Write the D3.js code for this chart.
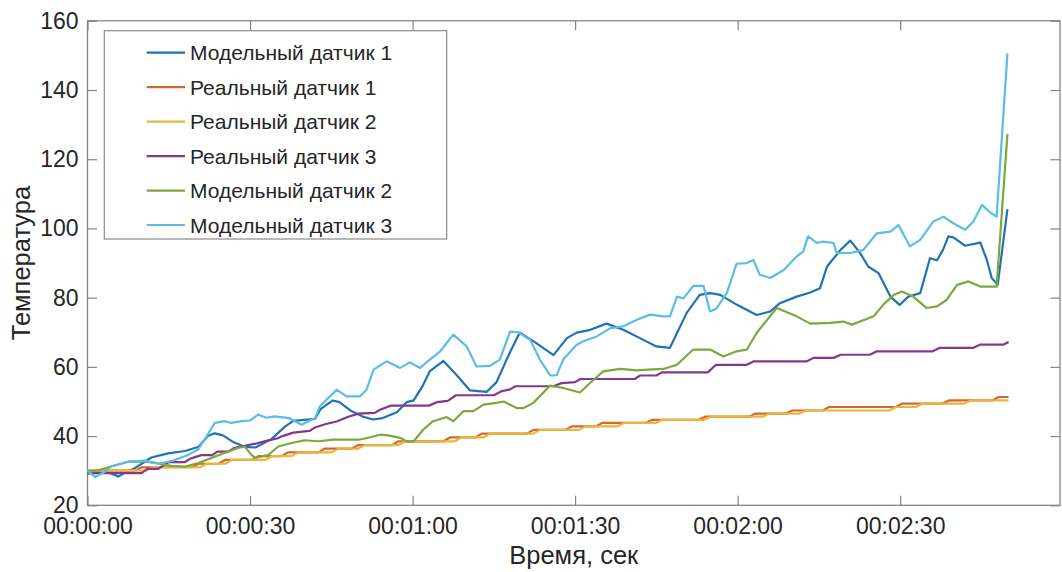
<!DOCTYPE html>
<html>
<head>
<meta charset="utf-8">
<script src="https://cdn.jsdelivr.net/npm/d3@7"></script>
<style>
  body { margin: 0; background: #fff; }
  text { font-family: "Liberation Sans", Arial, sans-serif; fill: #262626; }
</style>
</head>
<body>
<div id="chart"></div>
<script>
// Series names (legend order = draw order)
let seriesNames = [
  "Модельный датчик 1",
  "Реальный датчик 1",
  "Реальный датчик 2",
  "Реальный датчик 3",
  "Модельный датчик 2",
  "Модельный датчик 3",
];
let seriesColors = ["#1f72b4", "#d5662c", "#ebb43a", "#82388f", "#79aa3a", "#5abde8"];

// Values: [seconds, temperature]
let model1 = [[0,29.2],[2,29.5],[3.5,29.8],[5.7,28.3],[7,29.5],[8.8,30.8],[10.5,32.5],[11.8,33.8],[14.9,35],[18,35.7],[20.5,36.9],[22.2,40],[23.5,40.8],[25,40.2],[27,38.2],[29,36.9],[31,36.7],[34,39.2],[36.5,42.8],[38,44.4],[42,45],[43,47.8],[45.3,50.3],[46.5,49.8],[48.5,47.4],[50.9,45.6],[52.7,44.8],[54.5,45.2],[57.1,46.9],[58.9,49.8],[60.2,50.3],[61.9,54.6],[63.2,58.8],[65.7,61.7],[68.2,57.5],[70.6,53.2],[73.7,52.8],[75.5,55.6],[78,64.3],[79.8,69.9],[82.9,66.8],[86,63.4],[88.5,68.3],[90.3,69.9],[92.8,70.7],[95.8,72.5],[98.9,70.7],[102.6,67.8],[105,65.9],[107.5,65.5],[110.6,75.6],[113,80.8],[114.9,81.3],[116.8,80.8],[119.8,78],[123.5,75],[126,76],[127.8,78.4],[130.9,80.3],[133.4,81.5],[135.2,82.7],[136.5,89],[139,93.8],[140.8,96.5],[142.6,92.9],[144.1,89],[146,87.1],[148.2,80.3],[149.9,77.9],[151.5,80.3],[153.7,81.3],[155.5,91.4],[156.8,90.8],[157.9,93.8],[158.9,97.7],[159.8,97.4],[162,95],[164.8,95.9],[166,90.9],[166.9,85.7],[168,83.7],[169.8,105.6]];

let real1 = [[0,30],[8.8,30],[10,31],[19.3,31],[20.5,32],[24.2,32],[25.4,33.1],[30.3,33.1],[31.5,34.2],[35.8,34.2],[37,35.3],[42.6,35.3],[43.8,36.4],[48.8,36.4],[50,37.4],[56.2,37.4],[57.4,38.5],[65.7,38.5],[66.9,39.6],[71.6,39.6],[72.8,40.7],[81.1,40.7],[82.3,41.8],[88.2,41.8],[89.4,42.8],[93.8,42.8],[95,43.8],[103,43.8],[104.2,44.7],[112.8,44.7],[114,45.6],[122.1,45.6],[123.3,46.5],[128.9,46.5],[130.1,47.4],[135.7,47.4],[136.9,48.4],[149.2,48.4],[150.4,49.4],[157.8,49.4],[159,50.3],[167,50.3],[168.2,51.3],[170,51.3]];

let real2 = [[0,30],[10.8,30],[12,31],[20.8,31],[22,32],[25.4,32],[26.6,33.1],[32.8,33.1],[34,34.2],[37.7,34.2],[38.9,35.3],[45.1,35.3],[46.3,36.4],[50,36.4],[51.2,37.4],[57.4,37.4],[58.6,38.5],[67.8,38.5],[69,39.6],[73.1,39.6],[74.3,40.7],[82.3,40.7],[83.5,41.8],[90.7,41.8],[91.9,42.8],[97.8,42.8],[99,43.8],[104.9,43.8],[106.1,44.7],[113.8,44.7],[115,45.6],[124.6,45.6],[125.8,46.5],[131.4,46.5],[132.6,47.4],[148,47.4],[149.2,48.4],[152.9,48.4],[154.1,49.4],[161.8,49.4],[163,50.3],[170,50.3]];

let real3 = [[0,29.3],[10,29.3],[11,30.5],[13,30.5],[14,31.5],[15,32.5],[18,32.5],[19,33.5],[21,34.5],[23,34.5],[24,35.5],[26,35.5],[27,36.5],[29,37.2],[31,37.8],[33,38.6],[35,39.3],[36,40],[38,41],[41,41.5],[42,42.5],[44,43.5],[46,44.2],[48,45.5],[50,46.5],[53,46.7],[54,47.6],[56,48.8],[63,48.8],[64.5,49.8],[66.5,50.2],[68,51.8],[75,51.8],[76.5,53],[78,53.5],[79,54.4],[86,54.4],[87.5,55.3],[90,55.6],[91,56.5],[101,56.5],[102,57.5],[105,57.5],[106,58.4],[114.5,58.4],[116,60.6],[121.7,60.6],[123,61.6],[132.8,61.6],[134,62.6],[137.7,62.6],[139,63.5],[144.4,63.5],[145.7,64.5],[156,64.5],[157.3,65.5],[163.5,65.5],[164.7,66.4],[169,66.4],[170,67.2]];

let model2 = [[0,29.8],[2,30.1],[4.5,31.3],[7.5,32.6],[10,32.7],[12,32.5],[13.7,31.8],[15.5,31.4],[18,31.2],[20.5,32.2],[22.9,33.7],[25.4,35.2],[27.8,36.6],[29,37],[30.3,34.5],[31,33.7],[33.4,34.6],[35.2,37],[37.7,38],[40.1,38.8],[42.6,38.5],[45.4,39],[50.3,39],[52,39.6],[54,40.4],[55.5,40.2],[57.7,39.5],[58.9,38.5],[60.2,38.5],[62,41.9],[63.8,44.3],[66.3,45.5],[67.5,44.3],[69.4,47.2],[71.2,47.2],[73.1,49.1],[75.5,49.6],[76.8,50],[79.2,48.1],[80.5,48.1],[82.3,49.6],[85.4,54.6],[87.8,53.9],[90.9,52.6],[92.8,55.4],[95.2,58.7],[98.3,59.4],[101.4,59],[103.5,59.2],[106.3,59.4],[108.8,60.6],[111.8,65],[114.9,65],[117.4,63],[119.8,64.5],[121.7,65],[123.5,69.8],[127.2,77],[130.9,74.6],[133.4,72.5],[137.1,72.7],[139.5,73.1],[141.1,72.2],[142.6,73.1],[145.1,74.6],[146.9,78],[148.8,80.8],[150.3,81.8],[152.4,80.3],[154.9,77],[156.8,77.5],[158.6,79.4],[160.5,83.7],[162.6,84.7],[164.8,83.2],[167.8,83.2],[169.8,127.3]];

let model3 = [[0,30],[1.4,28.2],[3,29.5],[4.5,31.3],[7.5,32.6],[10.6,32.9],[11.8,32.3],[13.1,32],[16,33],[18.5,34.5],[20.4,36.1],[22,40],[23.5,43.8],[25.4,44.3],[26.5,43.8],[28.5,44.3],[30,44.5],[31.5,46.2],[33,45.3],[34.5,45.7],[37.2,45.2],[39.5,43.3],[42,45.2],[42.9,48.6],[44.1,50.5],[46,53.4],[47.8,51.5],[50.3,51.5],[51.5,53.4],[52.8,59.2],[55.2,61.6],[57.7,59.7],[59.5,61.3],[61.4,59.7],[62.5,61.2],[65.1,64.5],[67.5,69.3],[70,65.9],[71.8,60.1],[74.3,60.3],[76.1,62.1],[78,70.2],[79.5,70],[81.7,67.8],[83.5,62.1],[85.4,57.5],[86.6,57.6],[87.8,62.1],[90.3,66.4],[91.5,67.4],[94,68.8],[96.5,71.2],[98.9,71.7],[101.4,73.6],[103.8,75.1],[106.3,74.6],[107.5,74.6],[108.8,80.3],[110,79.8],[111.8,83.4],[113.7,83.4],[114.9,76],[116.1,76.9],[118,81.3],[119.8,89.8],[121.7,90],[122.9,90.9],[124.1,86.6],[126,85.7],[128.5,88],[130.9,91.9],[132.1,93.3],[133,97.7],[134.6,95.8],[135.8,96.2],[137.7,95.8],[138.3,92.9],[140.8,92.9],[143.2,93.8],[145.7,98.6],[148.2,99.1],[149.7,101],[151.8,94.8],[153.7,96.7],[156.1,102],[158,103.4],[159.8,101.5],[162,99.6],[163.5,102],[165.1,106.8],[166.6,104.6],[167.8,103.4],[169.8,150.6]];

let allSeries = [model1, real1, real2, real3, model2, model3];

// Tick values
let xTicks = [0, 30, 60, 90, 120, 150];
let yTicks = [20, 40, 60, 80, 100, 120, 140, 160];

// SVG area + plot box
let svgWidth = 1062;
let svgHeight = 572;
let box = { left: 87.5, right: 1060, top: 20.8, bottom: 505.3 };

var svg = d3.select("#chart")
  .append("svg")
  .attr("width", svgWidth)
  .attr("height", svgHeight);

// scales
let xScale = d3.scaleLinear().domain([0, 179.5]).range([box.left, box.right]);
let yScale = d3.scaleLinear().domain([20, 160]).range([box.bottom, box.top]);

// hh:mm:ss formatter
function fmtTime(s) {
  let h = Math.floor(s / 3600), m = Math.floor((s % 3600) / 60), sec = s % 60;
  return [h, m, sec].map((d) => String(d).padStart(2, "0")).join(":");
}

let axisColor = "#858585";
let tickLen = 9.5;

// Bottom axis
let xAxisB = svg.append("g")
  .attr("transform", `translate(0, ${box.bottom})`)
  .call(d3.axisBottom(xScale).tickValues(xTicks).tickFormat(fmtTime)
    .tickSizeInner(-tickLen).tickSizeOuter(0).tickPadding(12));
// Top axis (ticks only)
let xAxisT = svg.append("g")
  .attr("transform", `translate(0, ${box.top})`)
  .call(d3.axisTop(xScale).tickValues(xTicks).tickFormat("")
    .tickSizeInner(-tickLen).tickSizeOuter(0));
// Left axis
let yAxisL = svg.append("g")
  .attr("transform", `translate(${box.left}, 0)`)
  .call(d3.axisLeft(yScale).tickValues(yTicks)
    .tickSizeInner(-tickLen).tickSizeOuter(0).tickPadding(9));
// Right axis (ticks only)
let yAxisR = svg.append("g")
  .attr("transform", `translate(${box.right}, 0)`)
  .call(d3.axisRight(yScale).tickValues(yTicks).tickFormat("")
    .tickSizeInner(-tickLen).tickSizeOuter(0));

svg.selectAll(".domain").remove();
svg.selectAll(".tick line").attr("stroke", axisColor).attr("stroke-width", 1.2);
svg.selectAll(".tick text")
  .attr("font-size", "23px")
  .style("font-family", '"Liberation Sans", Arial, sans-serif')
  .attr("fill", "#262626");

// Box
svg.append("rect")
  .attr("x", box.left)
  .attr("y", box.top)
  .attr("width", box.right - box.left)
  .attr("height", box.bottom - box.top)
  .attr("fill", "none")
  .attr("stroke", axisColor)
  .attr("stroke-width", 1.3);

// Lines
let line = d3.line()
  .x((d) => xScale(d[0]))
  .y((d) => yScale(d[1]));

svg.append("g")
  .selectAll("path")
  .data(allSeries)
  .enter()
  .append("path")
  .attr("d", line)
  .attr("fill", "none")
  .attr("stroke", (d, i) => seriesColors[i])
  .attr("stroke-width", 2.2)
  .attr("stroke-linejoin", "round");

// Axis titles
svg.append("text")
  .attr("x", (box.left + box.right) / 2)
  .attr("y", 564)
  .attr("text-anchor", "middle")
  .attr("font-size", "25.5px")
  .text("Время, сек");

svg.append("text")
  .attr("transform", `translate(30, ${(box.top + box.bottom) / 2}) rotate(-90)`)
  .attr("text-anchor", "middle")
  .attr("font-size", "25.5px")
  .text("Температура");

// Legend
let legend = svg.append("g");
legend.append("rect")
  .attr("x", 104.3)
  .attr("y", 30.7)
  .attr("width", 342.4)
  .attr("height", 208.3)
  .attr("fill", "#fff")
  .attr("stroke", "#8a8a8a")
  .attr("stroke-width", 1.2);

let rows = legend.selectAll(".row")
  .data(seriesNames)
  .enter()
  .append("g")
  .attr("transform", (d, i) => `translate(0, ${52.7 + i * 34.46})`);

rows.append("line")
  .attr("x1", 146.7)
  .attr("x2", 185)
  .attr("stroke", (d, i) => seriesColors[i])
  .attr("stroke-width", 2.2);

rows.append("text")
  .attr("x", 190)
  .attr("dy", "0.36em")
  .attr("font-size", "21px")
  .text((d) => d);
</script>
</body>
</html>
